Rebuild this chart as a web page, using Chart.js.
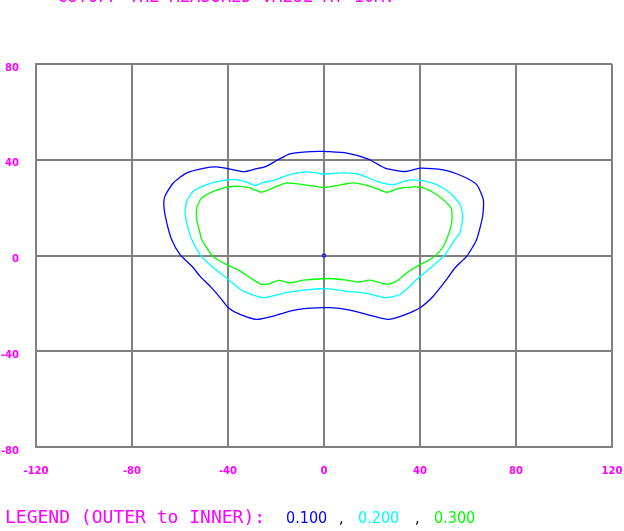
<!DOCTYPE html>
<html>
<head>
<meta charset="utf-8">
<script src="https://cdn.jsdelivr.net/npm/chart.js@4/dist/chart.umd.min.js"></script>
<style>
  html, body { margin: 0; padding: 0; background: #ffffff; }
  #wrap { width: 624px; height: 531px; position: relative; }
</style>
</head>
<body>
<div id="wrap"><canvas id="c" width="624" height="531"></canvas></div>
<script>
// ---- data ----
const levels = ["0.100", "0.200", "0.300"];
const xTicks = [-120, -80, -40, 0, 40, 80, 120];
const yTicks = [-80, -40, 0, 40, 80];

// outer contour 0.100
const outerX = [0, 9.5, 18.5, 25.4, 33.8, 40, 49.7, 58, 63.6, 66.4, 66.1, 63.6, 59.5, 54.6, 51.1, 45.5, 40, 33, 26.8, 19.2, 10.8, 2.5, -7.2, -14.2, -21.1, -28, -35, -39.9, -43.3, -47.5, -51.7, -55.1, -60, -63.5, -65.5, -66.7, -66.3, -62.8, -57.2, -50.3, -44.7, -39.2, -33.6, -28, -24.6, -19.7, -14.2, -7.2, 0];
const outerY = [43.5, 42.8, 40.3, 36.5, 35.1, 36.5, 35.8, 33, 29.6, 23.3, 16.4, 6.7, -0.3, -5.1, -10, -17, -21.8, -25, -26.7, -25, -22.8, -21.8, -22.1, -23.2, -25.3, -26.7, -24.6, -21.8, -17.6, -12.8, -8.6, -4.4, 0.4, 6.7, 13.6, 20.5, 24.7, 30.3, 34.5, 36.4, 37, 36.1, 35, 36.3, 37, 39.7, 42.5, 43.3, 43.5];

// middle contour 0.200
const midX = [0, 8, 15, 22, 28.9, 34.5, 40, 47, 52.5, 56.7, 57.8, 56.7, 54.6, 50.4, 45.5, 38.6, 31.7, 25.4, 17.8, 10.8, 1.1, -8.6, -17, -25.3, -33.6, -39.9, -46.8, -51.7, -55.1, -56.5, -57.9, -57.2, -54.5, -48.9, -42, -36.4, -32.2, -28.8, -25.3, -21.1, -14.2, -7.2, 0];
const midY = [34, 34.5, 33.8, 31, 29.6, 31.4, 31.4, 29.6, 26.1, 21.3, 16.4, 9.5, 6.7, 0.4, -4.2, -10, -16.3, -17.6, -15.8, -15.1, -13.8, -14.5, -15.8, -17.6, -14.9, -10, -4.5, 0.4, 6.7, 10.8, 17.8, 22.6, 26.8, 29.6, 31.4, 31.7, 30.7, 29.3, 30.5, 31.4, 33.8, 34.9, 34];

// inner contour 0.300
const innerX = [0, 5.3, 12.2, 19.2, 26.1, 30.3, 35.8, 41.4, 47, 51.1, 53.2, 53.2, 51.1, 48.3, 44.2, 40, 34.5, 30.3, 26.1, 19.2, 14.3, 9.5, 2.5, -8.6, -14.2, -19, -22.5, -26, -30.8, -35, -40.5, -46.1, -48.9, -51, -51.7, -53, -53, -51, -46.1, -40.5, -35, -30.8, -26, -19.7, -15.5, -5.8, 0];
const innerY = [28.3, 29.2, 30.3, 28.9, 26.4, 27.8, 28.6, 28.2, 25.4, 22, 19.2, 13.6, 6.7, 1.8, -1.7, -3.8, -7.2, -10.7, -12.1, -10.3, -11.1, -10.3, -9.6, -10.3, -11.4, -10.4, -11.7, -12.1, -9.3, -6.5, -3.8, -0.6, 3.3, 6.7, 9.5, 15, 19.9, 24, 26.8, 28.6, 28.9, 28.2, 26.5, 28.9, 30.3, 29.2, 28.3];

const centerX = [0];
const centerY = [0];

// ---- build datasets ----
function pts(xs, ys) { return xs.map((x, i) => ({ x: x, y: ys[i] })); }

const MAGENTA = '#ff00ff';
const GRID = '#808080';
const lineColors = ['#0000ff', '#00ffff', '#00ff00'];

const textPlugin = {
  id: 'texts',
  afterDraw(chart) {
    const ctx = chart.ctx;
    ctx.save();
    // top (clipped) title line
    ctx.fillStyle = MAGENTA;
    ctx.font = '17px "DejaVu Sans Mono"';
    ctx.textBaseline = 'alphabetic';
    ctx.textAlign = 'left';
    ctx.fillText('CUTOFF THE MEASURED VALUE AT 10M.', 57, 2, 341);

    // bottom legend
    const y = 523;
    ctx.font = '18px "DejaVu Sans Mono"';
    ctx.fillStyle = MAGENTA;
    ctx.fillText('LEGEND (OUTER to INNER):', 5, y, 268);
    ctx.font = '16px "DejaVu Sans Condensed"';
    const xs = [286, 358, 434];
    levels.forEach((lv, i) => {
      ctx.fillStyle = lineColors[i];
      ctx.fillText(lv, xs[i], y, 44);
    });
    ctx.fillStyle = '#000000';
    ctx.fillText(',', 339, y);
    ctx.fillText(',', 415, y);
    ctx.restore();
  }
};

new Chart(document.getElementById('c'), {
  type: 'scatter',
  data: {
    datasets: [
      { label: levels[0], data: pts(outerX, outerY), showLine: true, borderColor: lineColors[0], borderWidth: 1.3, pointRadius: 0, tension: 0.2, fill: false },
      { label: levels[1], data: pts(midX, midY), showLine: true, borderColor: lineColors[1], borderWidth: 1.3, pointRadius: 0, tension: 0.2, fill: false },
      { label: levels[2], data: pts(innerX, innerY), showLine: true, borderColor: lineColors[2], borderWidth: 1.3, pointRadius: 0, tension: 0.2, fill: false },
      { label: 'center', data: pts(centerX, centerY), showLine: false, pointStyle: 'rect', pointRadius: 2, borderColor: '#0000ff', backgroundColor: 'rgba(120,120,255,0.6)', borderWidth: 1 }
    ]
  },
  options: {
    responsive: false,
    animation: false,
    devicePixelRatio: 1,
    layout: { padding: { top: 64, right: 12, left: 0, bottom: 0 } },
    plugins: { legend: { display: false }, tooltip: { enabled: false }, title: { display: false } },
    scales: {
      x: {
        type: 'linear', min: -120, max: 120,
        afterBuildTicks(scale) { scale.ticks = xTicks.map(v => ({ value: v })); },
        afterFit(scale) { scale.height = 84; scale.paddingLeft = 0; scale.paddingRight = 0; },
        grid: { color: GRID, lineWidth: 2, drawTicks: false },
        border: { color: GRID, width: 2 },
        ticks: { color: MAGENTA, font: { family: 'DejaVu Sans', size: 10, weight: 'bold' }, padding: 18, maxRotation: 0, autoSkip: false }
      },
      y: {
        type: 'linear', min: -80, max: 80,
        afterBuildTicks(scale) { scale.ticks = yTicks.map(v => ({ value: v })); },
        afterFit(scale) { scale.width = 36; scale.paddingTop = 0; scale.paddingBottom = 0; },
        grid: { color: GRID, lineWidth: 2, drawTicks: false },
        border: { color: GRID, width: 2 },
        ticks: { color: MAGENTA, font: { family: 'DejaVu Sans', size: 10, weight: 'bold' }, padding: 17, labelOffset: 4, autoSkip: false }
      }
    }
  },
  plugins: [textPlugin]
});
</script>
</body>
</html>
